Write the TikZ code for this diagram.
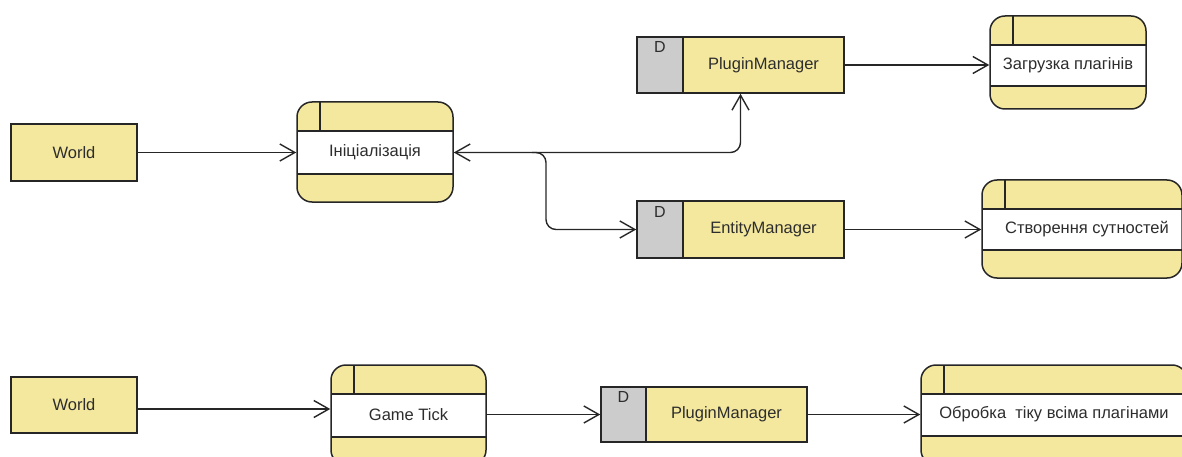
\documentclass[tikz,border=0pt]{standalone}
\usepackage{fontspec}
\setmainfont{Liberation Sans}
\usetikzlibrary{arrows.meta,calc}
\definecolor{boxyellow}{RGB}{244,232,158}
\definecolor{storegray}{RGB}{204,204,204}
\definecolor{ink}{RGB}{38,38,38}
\definecolor{txt}{RGB}{45,45,45}

\begin{document}
\begin{tikzpicture}[x=1pt,y=-1pt,
  font=\fontsize{16.5}{20}\selectfont, text=txt,
  line width=1.5pt,
  >={Straight Barb[length=15pt,width=17pt]},
  arr/.style={draw=ink, line width=1.4pt, ->},
  lbl/.style={inner sep=0pt},
  dlbl/.style={inner sep=0pt, font=\fontsize{16}{18}\selectfont},
  entity/.style={draw=ink, fill=boxyellow, minimum width=126pt, minimum height=57pt, inner sep=0pt},
  % data store: grey key column of width #1 on the left
  store/.style={draw=ink, fill=boxyellow, inner sep=0pt,
    path picture={
      \fill[storegray] (path picture bounding box.north west) rectangle ([xshift=#1]path picture bounding box.south west);
      \draw[ink] ([xshift=#1]path picture bounding box.north west) -- ([xshift=#1]path picture bounding box.south west);
    }},
  % process: rounded box, 29pt header with id cell, white band of height #1
  proc/.style={draw=ink, fill=boxyellow, rounded corners=15pt, inner sep=0pt,
    path picture={
      \fill[white, sharp corners] ([yshift=-29pt]path picture bounding box.north west) rectangle ([yshift=-29pt-#1]path picture bounding box.north east);
      \draw[ink, sharp corners] ([yshift=-29pt]path picture bounding box.north west) -- ([yshift=-29pt]path picture bounding box.north east);
      \draw[ink, sharp corners] ([yshift=-29pt-#1]path picture bounding box.north west) -- ([yshift=-29pt-#1]path picture bounding box.north east);
      \draw[ink, sharp corners] ([xshift=23pt]path picture bounding box.north west) -- ([xshift=23pt,yshift=-29pt]path picture bounding box.north west);
    }},
]
\useasboundingbox (0,0) rectangle (1182,457);
\clip (0,0) rectangle (1182,457);

% ---- initialisation flow ----
\node[entity] (w1) at (74,152.5) {World};

\node[proc=43pt, minimum width=156pt, minimum height=100pt] (p1) at (375,152) {};
\node[lbl] (p1t) at (375,152.5) {Ініціалізація};

\node[store=46pt, minimum width=207pt, minimum height=56pt] (s1) at (740.5,65) {};
\node[dlbl] (s1d) at (660,47) {D};
\node[lbl] (s1t) at (763.5,65) {PluginManager};

\node[proc=41pt, minimum width=156pt, minimum height=93pt] (p2) at (1068,62.5) {};
\node[lbl] (p2t) at (1068,65.5) {Загрузка плагінів};

\node[store=46pt, minimum width=207pt, minimum height=57pt] (s2) at (740.5,229.5) {};
\node[dlbl] (s2d) at (660,212) {D};
\node[lbl] (s2t) at (763.5,229.5) {EntityManager};

\node[proc=41pt, minimum width=200pt, minimum height=98pt] (p3) at (1082,229) {};
\node[lbl] (p3t) at (1087,229.5) {Створення сутностей};

\coordinate (j) at (546,152.5);

\draw[arr] (w1.east) -- (w1.east -| p1.west);
\draw[arr, <->, rounded corners=10pt] (p1t -| p1.east) -- (s1.south |- p1t) -- (s1.south);
\draw[arr, rounded corners=10pt] ([xshift=-14pt]j) -- (j) -- (j |- s2t) -- (s2t -| s2.west);
\draw[arr] (s1.east) -- (s1.east -| p2.west);
\draw[arr] (s2t -| s2.east) -- (s2t -| p3.west);

% ---- game tick flow ----
\node[entity, minimum height=56pt] (w2) at (74,405) {World};

\node[proc=43pt, minimum width=155pt, minimum height=100pt] (p4) at (408.5,415) {};
\node[lbl] (p4t) at (408.5,414.5) {Game Tick};

\node[store=45pt, minimum width=206pt, minimum height=55pt] (s3) at (704,414.5) {};
\node[dlbl] (s3d) at (623.5,397) {D};
\node[lbl] (s3t) at (726.5,414.5) {PluginManager};

\node[proc=42pt, minimum width=266pt, minimum height=100pt] (p5) at (1054,415) {};
\node[lbl] (p5t) at (1054,414.5) {Обробка~~тіку всіма плагінами};

\draw[arr] ([yshift=-4pt]w2.east) -- ([yshift=-4pt]w2.east -| p4.west);
\draw[arr] (p4t -| p4.east) -- (p4t -| s3.west);
\draw[arr] (s3.east) -- (s3.east -| p5.west);
\end{tikzpicture}
\end{document}
